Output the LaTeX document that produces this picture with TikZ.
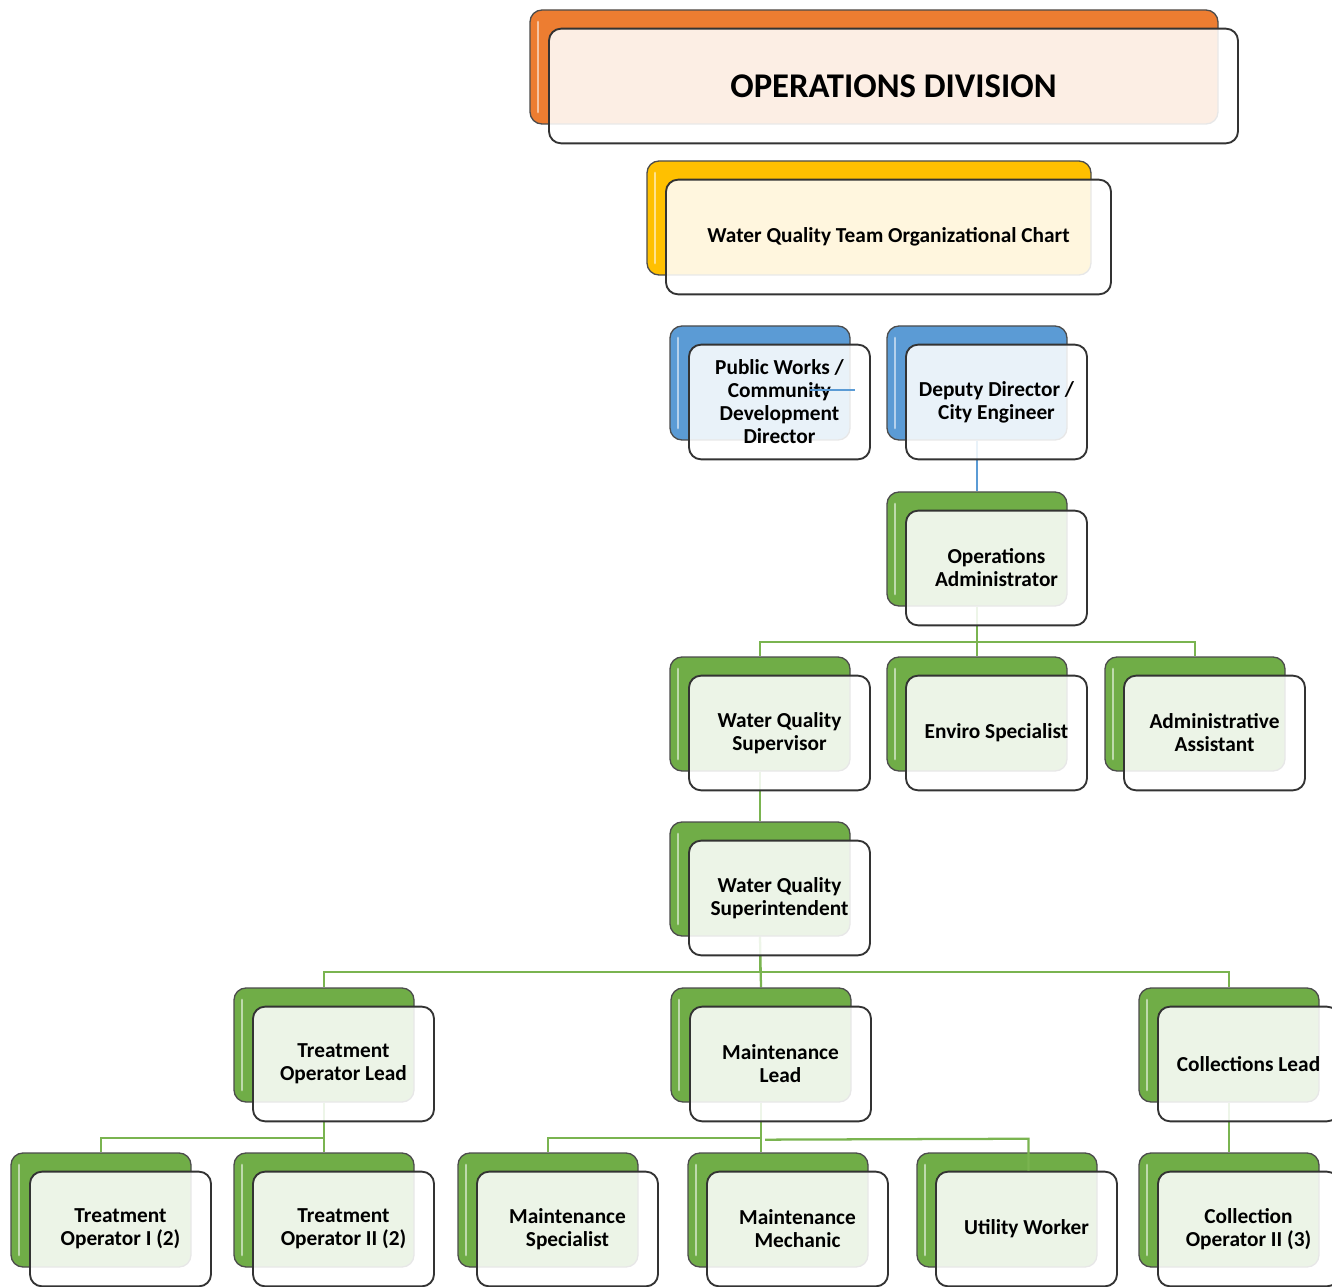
\documentclass[tikz,border=0pt]{standalone}
\usepackage{fontspec}
\setmainfont{Carlito}
\usepackage{tikz}
\usetikzlibrary{positioning,calc}
\definecolor{orgorange}{RGB}{237,125,49}
\definecolor{orggold}{RGB}{255,192,0}
\definecolor{orgblue}{RGB}{91,155,213}
\definecolor{orggreen}{RGB}{112,173,71}
\definecolor{linegreen}{RGB}{122,180,80}
\pgfdeclarelayer{lines}
\pgfsetlayers{lines,main}
\tikzset{
  backbox/.style={draw=black!70,line width=1pt,rounded corners=9pt,
    minimum height=85.5pt,inner sep=0pt,
    path picture={\draw[white,opacity=0.55,line width=2.2pt,line cap=round]
      ([xshift=6pt,yshift=-9pt]path picture bounding box.north west) --
      ([xshift=6pt,yshift=9pt]path picture bounding box.south west);}},
  frontbox/.style={draw=black!80,line width=1.4pt,rounded corners=9pt,
    fill=white,fill opacity=0.87,text opacity=1,minimum height=86pt,
    inner sep=2pt,align=center,font=\bfseries\fontsize{16}{17.25}\selectfont},
  grnline/.style={draw=linegreen,line width=1.7pt},
  bluline/.style={draw=orgblue,line width=1.7pt},
}
% #1 name, #2 #3 centre of the coloured box (px), #4 width (px), #5 colour, #6 text
\newcommand{\orgbox}[6]{%
  \node[backbox,fill=#5,minimum width={#4*0.75pt}] (b#1) at (#2,#3) {};
  \node[frontbox,minimum width={(#4+1)*0.75pt}] (#1) at ({#2+19.5},{#3+19}) {#6};
}

\begin{document}
\begin{tikzpicture}[x=0.75pt,y=-0.75pt]
\useasboundingbox (0,0) rectangle (1332,1287);

\orgbox{ops}{874}{67}{688}{orgorange}{\fontsize{26}{30}\selectfont OPERATIONS DIVISION}
\orgbox{wqt}{869}{218}{444}{orggold}{Water Quality Team Organizational Chart}

\orgbox{pw}{760}{383}{180}{orgblue}{Public Works /\\Community\\Development\\Director}
\orgbox{dep}{977}{383}{180}{orgblue}{Deputy Director /\\City Engineer}

\orgbox{oa}{977}{549}{180}{orggreen}{Operations\\Administrator}

\orgbox{ws}{760}{714}{180}{orggreen}{Water Quality\\Supervisor}
\orgbox{es}{977}{714}{180}{orggreen}{Enviro Specialist}
\orgbox{aa}{1195}{714}{180}{orggreen}{Administrative\\Assistant}

\orgbox{wsi}{760}{879}{180}{orggreen}{Water Quality\\Superintendent}

\orgbox{tol}{324}{1045}{180}{orggreen}{Treatment\\Operator Lead}
\orgbox{ml}{761}{1045}{180}{orggreen}{Maintenance\\Lead}
\orgbox{cl}{1229}{1045}{180}{orggreen}{Collections Lead}

\orgbox{to1}{101}{1210}{180}{orggreen}{Treatment\\Operator I (2)}
\orgbox{to2}{324}{1210}{180}{orggreen}{Treatment\\Operator II (2)}
\orgbox{ms}{548}{1210}{180}{orggreen}{Maintenance\\Specialist}
\orgbox{mm}{778}{1210}{180}{orggreen}{Maintenance\\Mechanic}
\orgbox{uw}{1007}{1210}{180}{orggreen}{Utility Worker}
\orgbox{co2}{1229}{1210}{180}{orggreen}{Collection\\Operator II (3)}

% connectors
\begin{pgfonlayer}{lines}
\draw[bluline] (bdep.south) -- (boa.north);
\draw[grnline] (boa.south) -- ++(0,35) -| (bws.north);
\draw[grnline] (boa.south) -- ++(0,35) -| (baa.north);
\draw[grnline] (boa.south) -- (bes.north);
\draw[grnline] (bws.south) -- (bwsi.north);
\draw[grnline] (bwsi.south) -- ++(0,35) -| (btol.north);
\draw[grnline] (bwsi.south) -- ++(0,35) -| (bcl.north);
\draw[grnline] (bwsi.south) -- (bml.north);
\draw[grnline] (btol.south) -- ++(0,35) -| (bto1.north);
\draw[grnline] (btol.south) -- (bto2.north);
\draw[grnline] (bml.south) -- ++(0,35) -| (bms.north);
\draw[grnline] (bml.south) -- (bml.south |- bmm.north);
\draw[grnline] (bcl.south) -- (bco2.north);
\end{pgfonlayer}

\coordinate (uwjoin) at ($(bml.south)+(4,37)$);
\draw[grnline] (uwjoin) -- ($(uw.north)+(2,-32)$) -- ($(uw.north)+(2,0)$);
\coordinate (pwstub) at (810,390);
\draw[bluline] (pwstub) -- ++(45,0);
\end{tikzpicture}
\end{document}
